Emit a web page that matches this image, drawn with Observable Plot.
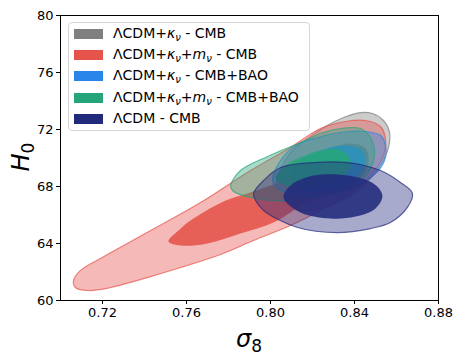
<!DOCTYPE html>
<html>
<head>
<meta charset="utf-8">
<script src="https://cdn.jsdelivr.net/npm/d3@7"></script>
<script src="https://cdn.jsdelivr.net/npm/@observablehq/plot@0.6"></script>
<style>
  body { margin: 0; background: white; }
  #wrap { position: relative; width: 464px; height: 361px; font-family: "DejaVu Sans", sans-serif; }
  #wrap svg { position: absolute; left: 0; top: 0; }
  .legend { position: absolute; left: 68px; top: 22px; width: 242px; height: 109px; border: 1px solid #d6d6d6; border-radius: 4px; background: rgba(255,255,255,0.8); box-sizing: border-box; }
  .row { position: absolute; left: 0; height: 21px; font-size: 14px; line-height: 14px; white-space: nowrap; font-family: "DejaVu Sans"; }
  .sw { position: absolute; left: 5px; top: 1px; width: 29px; height: 10px; }
  .lab { position: absolute; left: 44px; top: -2px; color: #000; }
  .lab i { font-style: italic; }
  .lab sub { font-size: 10px; vertical-align: -3px; line-height: 0; font-style: italic; }
</style>
</head>
<body>
<div id="wrap"></div>
<script>
// ---- data ----
const xTicks = [0.72, 0.76, 0.80, 0.84, 0.88];
const yTicks = [60, 64, 68, 72, 76, 80];
const seriesColors = ["#808080", "#e5534b", "#2a85ea", "#27a57a", "#222a7c"];
const legendHtml = [
  "ΛCDM+<i>κ</i><sub>ν</sub> - CMB",
  "ΛCDM+<i>κ</i><sub>ν</sub>+<i>m</i><sub>ν</sub> - CMB",
  "ΛCDM+<i>κ</i><sub>ν</sub> - CMB+BAO",
  "ΛCDM+<i>κ</i><sub>ν</sub>+<i>m</i><sub>ν</sub> - CMB+BAO",
  "ΛCDM - CMB"
];

// contour outlines [sigma8, H0]
const kappaCmbOuter = [[0.8029,68.21],[0.8048,69.26],[0.8105,70.53],[0.8190,71.51],[0.8262,72.21],[0.8348,72.84],[0.8429,73.19],[0.8486,73.12],[0.8538,72.63],[0.8567,71.79],[0.8562,70.74],[0.8524,69.47],[0.8452,68.21],[0.8357,67.16],[0.8238,66.46],[0.8129,66.32],[0.8057,67.02]];
const kappaCmbInner = [[0.8143,68.42],[0.8190,69.82],[0.8286,70.67],[0.8381,71.02],[0.8452,70.67],[0.8467,69.68],[0.8419,68.42],[0.8310,67.58],[0.8190,67.58]];
const kappaMnuCmbOuter = [[0.7062,61.40],[0.7095,62.11],[0.7190,62.95],[0.7429,64.91],[0.7667,66.88],[0.7905,69.12],[0.8095,70.74],[0.8238,72.07],[0.8357,72.56],[0.8452,72.63],[0.8524,72.21],[0.8548,71.23],[0.8533,69.96],[0.8476,68.77],[0.8395,67.72],[0.8238,66.32],[0.8095,65.26],[0.7919,64.21],[0.7762,63.23],[0.7429,61.68],[0.7238,60.91],[0.7133,60.70],[0.7071,60.91]];
const kappaMnuCmbInner = [[0.7514,64.14],[0.7562,64.91],[0.7619,65.61],[0.7776,66.95],[0.7890,67.51],[0.8000,68.07],[0.8143,68.84],[0.8286,69.47],[0.8371,69.47],[0.8390,68.63],[0.8324,67.72],[0.8143,66.60],[0.8014,65.47],[0.7857,64.70],[0.7700,64.00],[0.7571,63.86]];
const kappaBaoOuter = [[0.8010,68.56],[0.8048,69.82],[0.8119,70.88],[0.8224,71.44],[0.8333,71.79],[0.8452,71.86],[0.8524,71.58],[0.8548,70.88],[0.8543,69.82],[0.8500,68.91],[0.8381,67.86],[0.8214,67.37],[0.8071,67.58],[0.8019,68.07]];
const kappaBaoInner = [[0.8095,68.77],[0.8143,69.82],[0.8238,70.53],[0.8357,70.88],[0.8438,70.53],[0.8452,69.68],[0.8405,68.56],[0.8310,67.86],[0.8167,67.72]];
const kappaMnuBaoOuter = [[0.7810,68.07],[0.7857,69.12],[0.7986,70.11],[0.8143,71.09],[0.8238,71.72],[0.8333,72.07],[0.8429,72.07],[0.8476,71.44],[0.8495,70.53],[0.8476,69.26],[0.8414,68.21],[0.8286,67.51],[0.8095,67.02],[0.7905,67.23],[0.7819,67.72]];
const kappaMnuBaoInner = [[0.8024,68.56],[0.8071,69.47],[0.8143,70.04],[0.8238,70.53],[0.8324,70.60],[0.8371,70.11],[0.8381,69.40],[0.8333,68.56],[0.8238,68.00],[0.8119,67.86]];
const lcdmCmbOuter = [[0.7919,67.51],[0.7967,68.42],[0.8048,69.33],[0.8205,69.68],[0.8367,69.68],[0.8524,69.12],[0.8619,68.28],[0.8676,67.51],[0.8652,66.53],[0.8571,65.47],[0.8476,65.05],[0.8319,64.77],[0.8129,65.12],[0.7967,66.32],[0.7929,67.02]];
const lcdmCmbInner = [[0.8062,67.23],[0.8095,68.07],[0.8205,68.77],[0.8367,68.77],[0.8490,68.21],[0.8533,67.37],[0.8500,66.46],[0.8405,65.89],[0.8286,65.75],[0.8143,66.18]];

const contourSets = [
  [kappaCmbOuter, kappaCmbInner],
  [kappaMnuCmbOuter, kappaMnuCmbInner],
  [kappaBaoOuter, kappaBaoInner],
  [kappaMnuBaoOuter, kappaMnuBaoInner],
  [lcdmCmbOuter, lcdmCmbInner]
];

// ---- marks ----
const toRows = arr => arr.map(([s, h]) => ({s, h}));
const marks = [];
contourSets.forEach(([outer, inner], i) => {
  const c = seriesColors[i];
  marks.push(Plot.line(toRows(outer), {x: "s", y: "h", curve: "catmull-rom-closed",
    fill: c, fillOpacity: 0.4, stroke: c, strokeOpacity: 0.7, strokeWidth: 1.2}));
  marks.push(Plot.line(toRows(inner), {x: "s", y: "h", curve: "catmull-rom-closed",
    fill: c, fillOpacity: 0.88, stroke: "none"}));
});

const chart = Plot.plot({
  width: 464, height: 361,
  marginLeft: 60, marginRight: 26, marginTop: 15, marginBottom: 61,
  style: {fontFamily: "DejaVu Sans", fontSize: "13px", background: "white", color: "black"},
  x: {domain: [0.70, 0.88]},
  y: {domain: [60, 80]},
  marks: [
    ...marks,
    Plot.axisX({ticks: xTicks, tickFormat: d => d.toFixed(2), tickSize: 4, tickPadding: 3, label: null, fontSize: 13}),
    Plot.axisY({ticks: yTicks, tickSize: 4, tickPadding: 3, label: null, fontSize: 13}),
    Plot.frame({stroke: "black", strokeWidth: 1})
  ]
});

const wrap = document.getElementById("wrap");
wrap.appendChild(chart);

// axis labels with subscripts
const svg = d3.select(chart);
const xl = svg.append("text").attr("x", 249).attr("y", 347).attr("text-anchor", "middle")
  .style("font-family", "DejaVu Sans").style("font-size", "24px").attr("fill", "black");
xl.append("tspan").style("font-style", "italic").text("σ");
xl.append("tspan").attr("dy", 5).style("font-size", "17px").text("8");
const yl = svg.append("text").attr("transform", "translate(29,157) rotate(-90)").attr("text-anchor", "middle")
  .style("font-family", "DejaVu Sans").style("font-size", "24px").attr("fill", "black");
yl.append("tspan").style("font-style", "italic").text("H");
yl.append("tspan").attr("dy", 5).style("font-size", "17px").text("0");

// legend
const leg = document.createElement("div");
leg.className = "legend";
legendHtml.forEach((h, i) => {
  const row = document.createElement("div");
  row.className = "row";
  row.style.top = (5 + i * 21.2) + "px";
  const sw = document.createElement("div");
  sw.className = "sw";
  sw.style.background = seriesColors[i];
  const lab = document.createElement("div");
  lab.className = "lab";
  lab.innerHTML = h;
  row.appendChild(sw); row.appendChild(lab);
  leg.appendChild(row);
});
wrap.appendChild(leg);
</script>
</body>
</html>
